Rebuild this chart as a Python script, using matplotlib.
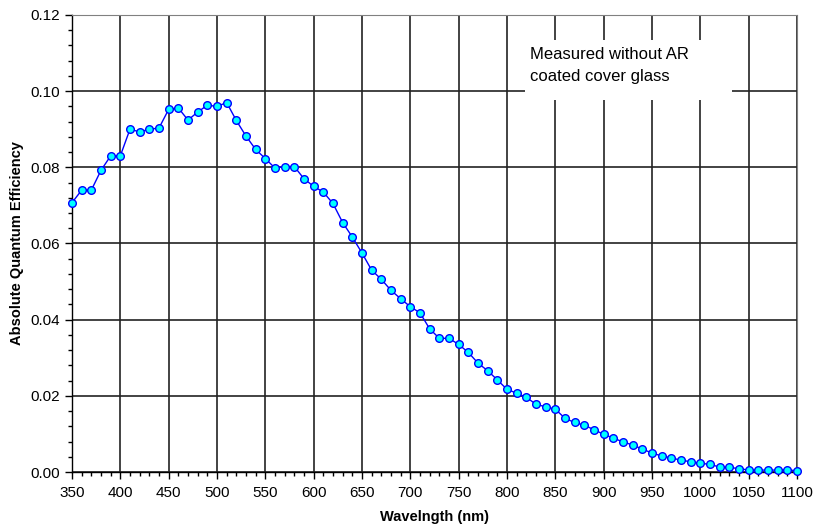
import numpy as np
import matplotlib.pyplot as plt
from matplotlib.ticker import MultipleLocator, FormatStrFormatter

plt.rcParams["font.family"] = ["Liberation Sans", "DejaVu Sans"]

# Wavelength (nm), every 10 nm
wavelength = list(range(350, 1101, 10))

# Absolute quantum efficiency
qe = [
    0.0707, 0.0740, 0.0740, 0.0792, 0.0830, 0.0830, 0.0900, 0.0893, 0.0900, 0.0903,
    0.0952, 0.0956, 0.0924, 0.0945, 0.0963, 0.0960, 0.0970, 0.0923, 0.0882, 0.0847,
    0.0823, 0.0798, 0.0802, 0.0802, 0.0770, 0.0750, 0.0735, 0.0705, 0.0655, 0.0617,
    0.0575, 0.0530, 0.0506, 0.0477, 0.0455, 0.0434, 0.0418, 0.0376, 0.0351, 0.0351,
    0.0335, 0.0314, 0.0286, 0.0266, 0.0242, 0.0217, 0.0207, 0.0196, 0.0178, 0.0171,
    0.0165, 0.0141, 0.0130, 0.0123, 0.0111, 0.0099, 0.0089, 0.0079, 0.0071, 0.0060,
    0.0050, 0.0042, 0.0037, 0.0031, 0.0027, 0.0023, 0.0020, 0.0013, 0.0012, 0.0009,
    0.0005, 0.0005, 0.0005, 0.0005, 0.0006, 0.0003,
]

note_text = "Measured without AR\ncoated cover glass"

fig = plt.figure(figsize=(8.17, 5.31), dpi=100)
ax = fig.add_axes([0.0881, 0.1111, 0.8874, 0.8607])

ax.set_xlim(350, 1100)
ax.set_ylim(0, 0.12)
ax.xaxis.set_major_locator(MultipleLocator(50))
ax.xaxis.set_minor_locator(MultipleLocator(10))
ax.yaxis.set_major_locator(MultipleLocator(0.02))
ax.yaxis.set_minor_locator(MultipleLocator(0.004))
ax.yaxis.set_major_formatter(FormatStrFormatter("%.2f"))

ax.grid(True, which="major", color="#222222", linewidth=1.2, zorder=1)

# white box behind the note, hides the grid there
ax.fill_between([819, 1033], [0.0977, 0.0977], [0.1134, 0.1134], color="white",
                zorder=2, linewidth=0)
ax.text(824, 0.1068, note_text, fontsize=12, va="center", ha="left",
        linespacing=1.55, zorder=3)

ax.plot(wavelength, qe, color="#0000ff", linewidth=1.0, marker="o",
        markersize=5.5, markerfacecolor="#00ffff", markeredgecolor="#0000ff",
        markeredgewidth=1.0, zorder=4, clip_on=False)

for side in ["top", "right"]:
    ax.spines[side].set_color("#808080")
for side in ["left", "bottom"]:
    ax.spines[side].set_color("black")
    ax.spines[side].set_linewidth(1.0)

ax.tick_params(axis="both", which="major", direction="out", length=5, width=1,
               labelsize=11, colors="black")
ax.tick_params(axis="both", which="minor", direction="out", length=3, width=1)
ax.tick_params(axis="x", which="major", pad=5)

ax.set_xlabel("Wavelngth (nm)", fontsize=10.5, fontweight="bold", labelpad=7)
ax.set_ylabel("Absolute Quantum Efficiency", fontsize=10.5, fontweight="bold",
              labelpad=5)

fig.savefig("out.png", dpi=100)
